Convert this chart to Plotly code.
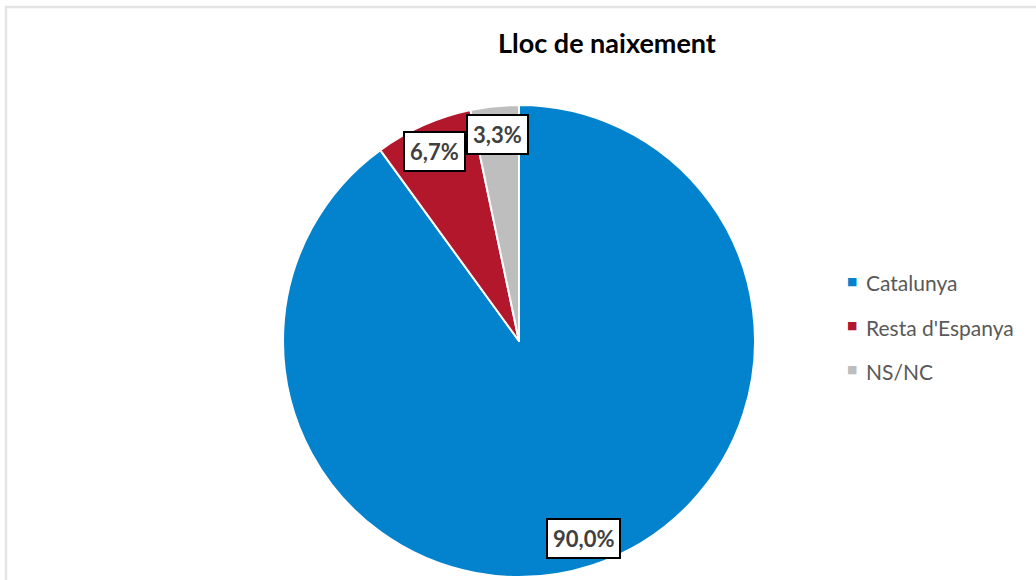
import math
import plotly.graph_objects as go

W, H = 1036, 580

labels = ["Catalunya", "Resta d'Espanya", "NS/NC"]
values = [90.0, 6.7, 3.3]
colors = ["#0383CD", "#B3172C", "#BEBEBE"]
title = "Lloc de naixement"

# pie geometry in pixels
CX, CY, R = 519, 341, 236


def px(x):
    return x / W


def py(y):
    return 1 - y / H


fig = go.Figure(go.Pie(
    labels=labels, values=values,
    sort=False, direction="clockwise", rotation=0,
    marker=dict(colors=colors, line=dict(color="#FFFFFF", width=2)),
    textinfo="none", hoverinfo="label+percent",
    showlegend=False,
    domain=dict(x=[px(CX - R), px(CX + R)], y=[py(CY + R), py(CY - R)]),
))

# data labels in boxes, placed at the middle angle of each slice
total = sum(values)
cum = 0
for v in values:
    mid = (cum + v / 2) / total * 2 * math.pi
    cum += v
    d = 0.88 * R
    lx = CX + d * math.sin(mid)
    ly = CY - d * math.cos(mid)
    fig.add_annotation(
        x=px(lx), y=py(ly), xref="paper", yref="paper",
        xanchor="center", yanchor="middle",
        text=f"<b>{v:.1f}%</b>".replace(".", ","),
        showarrow=False, bgcolor="#FFFFFF", bordercolor="#000000",
        borderwidth=2, borderpad=5,
        font=dict(family="Lato", size=22, color="#404040"),
    )

# legend
for i, (lab, col) in enumerate(zip(labels, colors)):
    yy = 283 + i * 44
    fig.add_annotation(
        x=px(852), y=py(yy - 2), xref="paper", yref="paper",
        xanchor="center", yanchor="middle",
        showarrow=False, text="■",
        font=dict(family="DejaVu Sans", size=11, color=col),
    )
    fig.add_annotation(
        x=px(864), y=py(yy), xref="paper", yref="paper",
        xanchor="left", yanchor="middle", showarrow=False, text=lab,
        font=dict(family="Lato", size=21, color="#595959"),
    )

fig.add_annotation(
    x=px(607), y=py(43), xref="paper", yref="paper",
    xanchor="center", yanchor="middle",
    text=f"<b>{title}</b>", showarrow=False,
    font=dict(family="Lato", size=27, color="#000000"),
)

fig.add_shape(
    type="rect", xref="paper", yref="paper",
    x0=px(6), x1=1.02, y0=-0.02, y1=py(7),
    line=dict(color="#E4E4E4", width=2.5),
)

fig.update_layout(
    width=W, height=H,
    margin=dict(l=0, r=0, t=0, b=0),
    paper_bgcolor="#FFFFFF", plot_bgcolor="#FFFFFF",
)

fig.write_html("out.html", config={"displayModeBar": False},
               post_script="document.body.style.margin='0';")
